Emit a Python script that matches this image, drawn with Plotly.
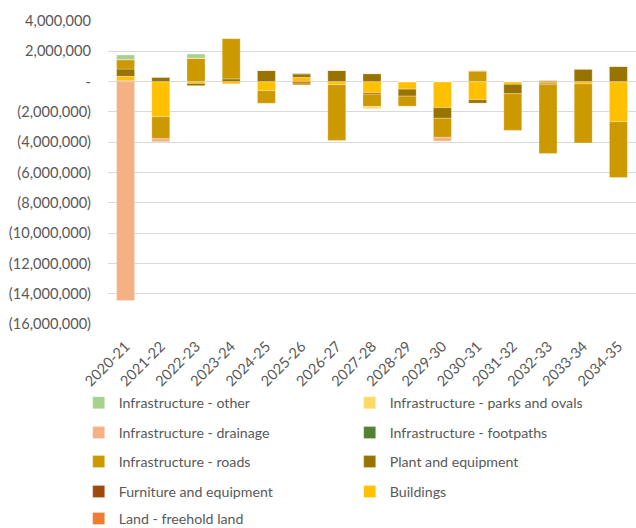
import plotly.graph_objects as go

years = ["2020-21", "2021-22", "2022-23", "2023-24", "2024-25", "2025-26", "2026-27",
         "2027-28", "2028-29", "2029-30", "2030-31", "2031-32", "2032-33", "2033-34", "2034-35"]

land = [80000, 0, 0, 0, 0, 0, 0, 0, 0, 0, 0, 0, 0, 0, 0]
buildings = [270000, -2320000, -120000, -150000, -600000, 280000, -200000, -750000,
             -500000, -1720000, -1200000, -180000, -120000, -150000, -2650000]
furniture = [0, 0, 0, 0, 0, -90000, 0, -80000, 0, 0, 0, 0, -80000, 0, 0]
plant = [480000, 300000, -150000, 180000, 750000, 220000, 750000, 530000,
         -460000, -700000, -220000, -620000, 100000, 840000, 1020000]
roads = [620000, -1450000, 1550000, 2690000, -830000, -130000, -3680000, -810000,
         -660000, -1260000, 700000, -2420000, -4550000, -3900000, -3680000]
footpaths = [0, 0, 0, 0, 0, 60000, 0, 0, 0, 0, 0, 0, 0, 0, 0]
drainage = [-14450000, -200000, 0, 0, 0, 0, 0, 0, 0, -250000, 50000, 0, 0, 0, 0]
parks = [0, 0, 0, 0, 0, 0, 0, -150000, 0, 0, 0, 0, 0, 0, 0]
other = [310000, 0, 270000, 0, 0, 0, 0, 0, 0, 0, 0, 0, 0, 0, 0]

tick_vals = [4000000, 2000000, 0, -2000000, -4000000, -6000000, -8000000,
             -10000000, -12000000, -14000000, -16000000]
tick_text = ["4,000,000", "2,000,000", "-", "(2,000,000)", "(4,000,000)", "(6,000,000)",
             "(8,000,000)", "(10,000,000)", "(12,000,000)", "(14,000,000)", "(16,000,000)"]

# stacking order (bottom first), legend assignment, colour
series = [
    ("Land - freehold land", land, "#ED7D31", "legend5"),
    ("Buildings", buildings, "#FFC000", "legend4"),
    ("Furniture and equipment", furniture, "#9E480E", "legend4"),
    ("Plant and equipment", plant, "#997300", "legend3"),
    ("Infrastructure - roads", roads, "#CC9900", "legend3"),
    ("Infrastructure - footpaths", footpaths, "#548235", "legend2"),
    ("Infrastructure - drainage", drainage, "#F4B183", "legend2"),
    ("Infrastructure - parks and ovals", parks, "#FFD966", "legend"),
    ("Infrastructure - other", other, "#A9D18E", "legend"),
]

fig = go.Figure()
for name, vals, col, lg in series:
    fig.add_trace(go.Bar(
        x=years, y=vals, name=name, legend=lg,
        marker=dict(color=col, line=dict(color="rgba(255,255,255,0.45)", width=0.6)),
    ))

font = dict(family="Lato, 'Liberation Sans', sans-serif", size=14.6, color="#595959")
leg_font = dict(family="Lato, 'Liberation Sans', sans-serif", size=14.2, color="#595959")

legend_common = dict(orientation="h", traceorder="reversed", font=leg_font,
                     entrywidth=226, entrywidthmode="pixels", itemwidth=30,
                     xanchor="left", yanchor="middle", bgcolor="rgba(0,0,0,0)",
                     x=-0.0555)
H_PLOT = 324 - 20.7
def ly(ypix):
    # convert page pixel y to paper coordinate
    return (324 - ypix) / H_PLOT

layout_legends = {}
rows = [403, 433, 462, 492, 519]
names = ["legend", "legend2", "legend3", "legend4", "legend5"]
for n, r in zip(names, rows):
    layout_legends[n] = dict(legend_common, y=ly(r))

fig.update_layout(
    width=636, height=528,
    margin=dict(l=108, r=0, t=20.7, b=204, autoexpand=False),
    barmode="relative",
    bargap=0.49,
    plot_bgcolor="white", paper_bgcolor="white",
    font=font,
    showlegend=True,
    xaxis=dict(tickangle=-45, showgrid=False, showline=False, ticks="",
               tickfont=font, zeroline=False, ticklabelstandoff=10),
    yaxis=dict(range=[-16000000, 4000000], tickvals=tick_vals, ticktext=tick_text,
               showgrid=True, gridcolor="#D9D9D9", gridwidth=1.3, zeroline=False,
               showline=False, ticks="", tickfont=font, ticklabelstandoff=16),
    **layout_legends,
)

fig.write_html("out.html")
